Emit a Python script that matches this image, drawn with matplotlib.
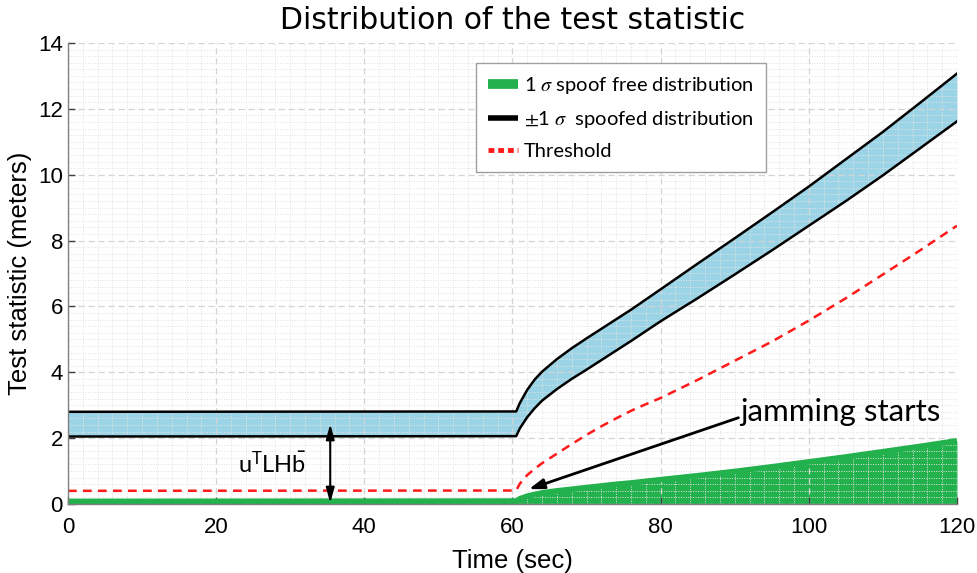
import matplotlib
matplotlib.use("Agg")
import matplotlib.pyplot as plt
from matplotlib.lines import Line2D
from matplotlib.ticker import MultipleLocator

plt.rcParams['font.family'] = ['Liberation Sans', 'DejaVu Sans']
plt.rcParams['mathtext.fontset'] = 'stix'

# ---- data ----
time_s = [0, 60.5, 61, 62, 63, 64, 66, 68, 70, 72, 74, 76, 78, 80, 85, 90, 95, 100, 105, 110, 115, 120]
spoofed_upper = [2.80, 2.81, 3.07, 3.47, 3.78, 4.02, 4.40, 4.73, 5.03, 5.32, 5.61, 5.90, 6.21, 6.52,
                 7.30, 8.07, 8.85, 9.64, 10.47, 11.30, 12.18, 13.07]
spoofed_lower = [2.05, 2.06, 2.30, 2.64, 2.91, 3.14, 3.49, 3.80, 4.08, 4.37, 4.66, 4.95, 5.25, 5.55,
                 6.25, 6.97, 7.70, 8.45, 9.20, 9.98, 10.80, 11.62]
threshold = [0.40, 0.41, 0.62, 0.88, 1.07, 1.24, 1.53, 1.82, 2.10, 2.36, 2.60, 2.83, 3.03, 3.22,
             3.77, 4.35, 4.93, 5.57, 6.25, 6.97, 7.70, 8.45]
spoof_free = [0.08, 0.09, 0.16, 0.24, 0.29, 0.34, 0.40, 0.45, 0.50, 0.55, 0.60, 0.64, 0.69, 0.74,
              0.86, 0.99, 1.13, 1.28, 1.43, 1.59, 1.75, 1.92]

x_ticks = [0, 20, 40, 60, 80, 100, 120]
y_ticks = [0, 2, 4, 6, 8, 10, 12, 14]

legend_labels = [r"1 $\sigma$ spoof free distribution",
                 r"$\pm$1 $\sigma$  spoofed distribution",
                 "Threshold"]

bias_arrow_x = 35.4
bias_arrow_y = [0.03, 2.43]
jam_arrow_tail = (90.5, 2.62)
jam_arrow_head = (62.2, 0.45)

# ---- colours ----
c_blue = '#9bd4e6'
c_green = '#22b14c'
c_red = '#ff1a1a'

fig = plt.figure(figsize=(9.78, 5.73), dpi=100)
ax = fig.add_axes([0.0695, 0.1204, 0.9090, 0.8046])

ax.fill_between(time_s, spoofed_lower, spoofed_upper, color=c_blue, lw=0, zorder=1)
ax.fill_between(time_s, 0, spoof_free, color=c_green, lw=0, zorder=1)
ax.plot(time_s, spoofed_upper, color='black', lw=1.8, zorder=3)
ax.plot(time_s, spoofed_lower, color='black', lw=1.8, zorder=3)
ax.plot(time_s, spoof_free, color=c_green, lw=4, zorder=3, solid_capstyle='butt')
ax.plot(time_s, threshold, color=c_red, lw=1.8, ls=(0, (3.5, 2.5)), zorder=3)

ax.set_xlim(0, 120)
ax.set_ylim(0, 14)
ax.set_xticks(x_ticks)
ax.set_yticks(y_ticks)
ax.xaxis.set_minor_locator(MultipleLocator(2))
ax.yaxis.set_minor_locator(MultipleLocator(0.2))
ax.set_axisbelow(False)
ax.grid(which='major', color='#d4d4d4', ls=(0, (5, 3)), lw=0.9)
ax.grid(which='minor', color='#e3e3e3', ls=(0, (1, 1.5)), lw=0.7)
ax.tick_params(which='major', direction='in', length=5, width=1, colors='#404040',
               labelcolor='black', labelsize=16)
ax.tick_params(axis='x', which='major', pad=9.5)
ax.tick_params(axis='y', which='major', pad=3.6)
ax.tick_params(which='minor', length=0)
for s in ['top', 'right']:
    ax.spines[s].set_visible(False)
for s in ['left', 'bottom']:
    ax.spines[s].set_color('#808080')
    ax.spines[s].set_linewidth(1)
    ax.spines[s].set_zorder(4)

ax.set_xlabel('Time (sec)', fontsize=18.5, labelpad=7.5)
ax.set_ylabel('Test statistic (meters)', fontsize=18.5, labelpad=4.6)
fig.text(0.524, 0.965, 'Distribution of the test statistic', fontsize=21.5,
         family='DejaVu Sans', ha='center', va='center')

# annotations
ax.annotate('', xy=(bias_arrow_x, bias_arrow_y[0]), xytext=(bias_arrow_x, bias_arrow_y[1]),
            arrowprops=dict(arrowstyle='<|-|>,head_length=0.9,head_width=0.25', color='black',
                            lw=1.5, shrinkA=0, shrinkB=0), zorder=5)
ax.text(27.6, 1.2, r'$\mathregular{u^TLH\bar{b}}$', fontsize=17, family='Lato',
        ha='center', va='center', zorder=5)
ax.annotate('', xy=jam_arrow_head, xytext=jam_arrow_tail,
            arrowprops=dict(arrowstyle='-|>,head_length=0.9,head_width=0.3', color='black',
                            lw=2, shrinkA=0, shrinkB=0), zorder=5)
ax.text(90.7, 2.8, 'jamming starts', fontsize=22.5, family='Lato',
        ha='left', va='center', zorder=5)

handles = [Line2D([], [], color=c_green, lw=7, solid_capstyle='butt'),
           Line2D([], [], color='black', lw=4, solid_capstyle='butt'),
           Line2D([], [], color=c_red, lw=3.5, ls=(0, (1.2, 0.8)))]
leg = fig.legend(handles, legend_labels, loc='upper left',
                 bbox_to_anchor=(476 / 978, 1 - 63 / 573),
                 prop={'family': 'Lato', 'size': 14.5}, frameon=True, fancybox=False,
                 edgecolor='#a0a0a0', framealpha=1, handlelength=1.45, handletextpad=0.3,
                 labelspacing=0.62, borderpad=0.62, borderaxespad=0)
leg.get_frame().set_linewidth(1)

fig.savefig('out.png', dpi=100)
